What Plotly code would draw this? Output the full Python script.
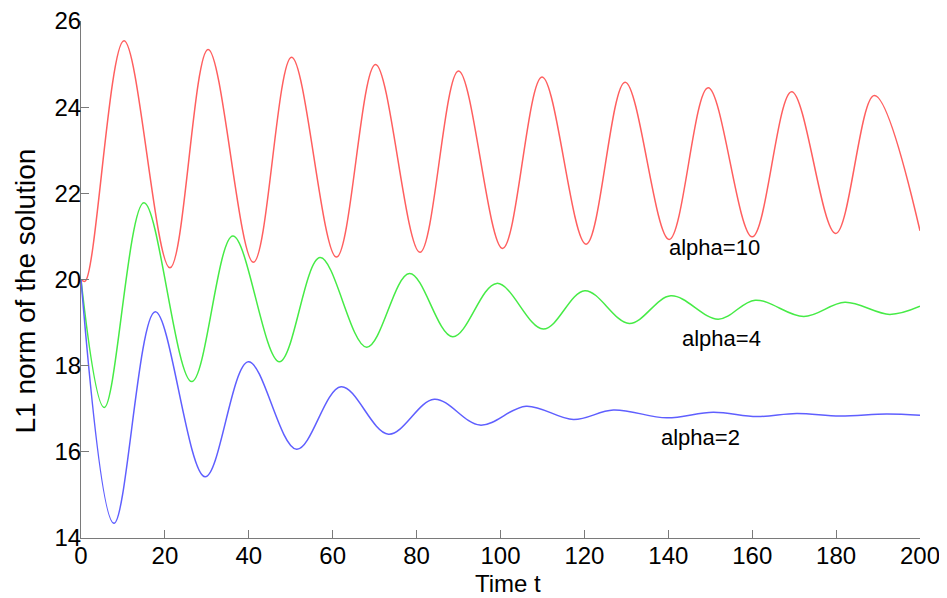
import plotly.graph_objects as go

# alpha = 10 (red): extrema
t_a10 = [0, 1.0, 10.25, 21.2, 30.3, 41.1, 50.2, 60.9, 70.2, 80.8, 90.0, 100.5, 109.9,
         120.4, 129.7, 140.2, 149.5, 160.0, 169.4, 179.9, 189.1, 200]
y_a10 = [20.0, 19.96, 25.54, 20.27, 25.34, 20.40, 25.16, 20.52, 24.99, 20.63, 24.84, 20.72, 24.70,
         20.82, 24.58, 20.93, 24.45, 20.99, 24.36, 21.07, 24.27, 21.13]

# alpha = 4 (green)
t_a4 = [0, 5.55, 15.0, 26.4, 36.2, 47.3, 57.0, 68.1, 78.3, 88.6, 99.1, 110.2, 120.1,
        130.7, 140.6, 151.9, 160.7, 172.3, 182.1, 192.8, 200]
y_a4 = [20.0, 17.03, 21.78, 17.63, 21.01, 18.09, 20.51, 18.43, 20.14, 18.67, 19.91, 18.85, 19.74,
        18.98, 19.62, 19.08, 19.52, 19.14, 19.47, 19.19, 19.38]

# alpha = 2 (blue)
t_a2 = [0, 7.87, 17.7, 29.6, 39.9, 51.4, 62.0, 73.3, 84.2, 95.1, 106.1, 117.4, 126.9,
        139.6, 150.7, 161.1, 170.6, 180.9, 192.0, 200]
y_a2 = [20.0, 14.34, 19.25, 15.42, 18.09, 16.06, 17.51, 16.41, 17.22, 16.62, 17.06, 16.75, 16.97,
        16.79, 16.92, 16.82, 16.89, 16.83, 16.88, 16.85]

labels = ["alpha=10", "alpha=4", "alpha=2"]
label_t = [151.1, 152.6, 147.6]
label_y = [20.75, 18.64, 16.34]

x_ticks = list(range(0, 201, 20))
y_ticks = list(range(14, 27, 2))

FONT = "Liberation Sans, Arial, Helvetica, sans-serif"

fig = go.Figure()
series = [(t_a10, y_a10, "rgb(255,95,95)"), (t_a4, y_a4, "rgb(70,235,70)"), (t_a2, y_a2, "rgb(95,95,255)")]
for (tt, yy, col), name in zip(series, labels):
    fig.add_trace(go.Scatter(x=tt, y=yy, mode="lines", name=name,
                             line=dict(color=col, width=1.5, shape="spline", smoothing=1)))

for txt, tx, ty in zip(labels, label_t, label_y):
    fig.add_annotation(x=tx, y=ty, text=txt, showarrow=False,
                       font=dict(family=FONT, size=22, color="black"))

# axis titles
fig.add_annotation(xref="paper", yref="paper", x=0.5, y=0, xshift=7, yshift=-45,
                   xanchor="center", yanchor="middle", showarrow=False,
                   text="Time t", font=dict(family=FONT, size=24, color="black"))
fig.add_annotation(xref="paper", yref="paper", x=0, y=0.5, xshift=-56, yshift=-12,
                   xanchor="center", yanchor="middle", showarrow=False, textangle=-90,
                   text="L1 norm of the solution", font=dict(family=FONT, size=28, color="black"))

axis_common = dict(showline=True, linecolor="#7a7a7a", linewidth=1.2, ticks="inside", ticklen=8,
                   tickcolor="#7a7a7a", showgrid=False, zeroline=False, mirror=False,
                   ticklabeloverflow="allow",
                   tickfont=dict(family=FONT, size=24, color="black"))

fig.update_xaxes(range=[0, 200], tickvals=x_ticks, ticktext=[str(v) for v in x_ticks],
                 ticklabelstandoff=-4, **axis_common)
fig.update_yaxes(range=[14, 26], tickvals=y_ticks, ticktext=[str(v) for v in y_ticks],
                 ticklabelstandoff=-6, **axis_common)

fig.update_layout(width=939, height=590, showlegend=False,
                  plot_bgcolor="white", paper_bgcolor="white",
                  margin=dict(l=73, r=27, t=13, b=60, autoexpand=False),
                  font=dict(family=FONT))

fig.write_html("out.html")
